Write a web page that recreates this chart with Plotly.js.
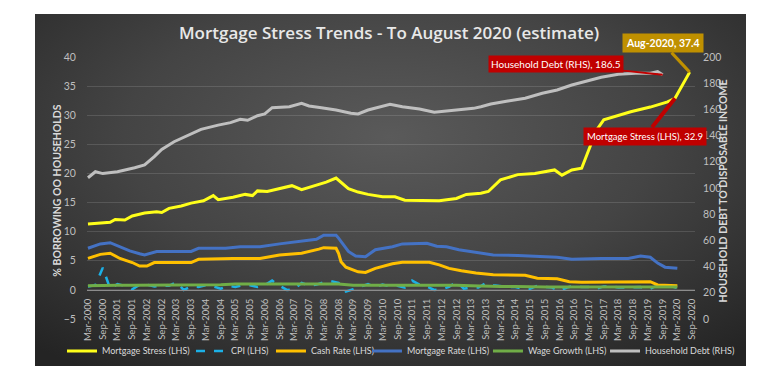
<!DOCTYPE html>
<html><head><meta charset="utf-8">
<script src="https://cdn.plot.ly/plotly-3.0.1.min.js"></script>
<style>
html,body{margin:0;padding:0;background:#fff;width:778px;height:383px;overflow:hidden}
#bg{position:absolute;left:35px;top:14px;width:711px;height:352px;background:radial-gradient(ellipse 75% 80% at 50% 35%, #5a5a5a 0%, #444 50%, #242424 100%);}
#chart{position:absolute;left:0;top:0;width:778px;height:383px}
</style></head><body><div id="bg"></div><div id="chart"></div>
<script>
// Mortgage Stress (LHS)
const stressDates = ["2000-03-01","2000-08-01","2000-12-01","2001-02-01","2001-06-01","2001-09-01","2002-02-01","2002-07-01","2002-09-01","2002-12-01","2003-05-01","2003-09-01","2004-02-01","2004-06-01","2004-08-01","2005-02-01","2005-07-01","2005-10-01","2005-12-01","2006-04-01","2006-09-01","2007-02-01","2007-06-01","2007-12-01","2008-04-01","2008-08-01","2009-01-01","2009-05-01","2009-09-01","2010-03-01","2010-08-01","2010-12-01","2011-07-01","2012-02-01","2012-09-01","2013-01-01","2013-07-01","2013-10-01","2014-03-01","2014-07-01","2014-10-01","2015-05-01","2016-01-01","2016-04-01","2016-08-01","2016-12-01","2017-03-01","2017-06-01","2017-09-01","2018-01-01","2018-08-01","2019-04-01","2019-11-01","2020-02-01","2020-04-01","2020-07-01","2020-08-01"];
const stressVals = [11.3,11.5,11.6,12.1,12.0,12.7,13.2,13.4,13.3,14.0,14.4,14.9,15.3,16.2,15.5,15.9,16.4,16.2,17.0,16.9,17.4,17.9,17.2,18.0,18.5,19.2,17.4,16.8,16.4,16.0,16.0,15.4,15.3,15.3,15.7,16.4,16.6,16.9,18.9,19.4,19.8,20.0,20.6,19.7,20.6,20.9,24.0,27.4,29.2,29.7,30.6,31.4,32.3,32.9,34.3,36.6,37.4];

// CPI (LHS), quarterly
const cpiDates = ["2000-03-01","2000-06-01","2000-09-01","2000-12-01","2001-03-01","2001-06-01","2001-09-01","2001-12-01","2002-03-01","2002-06-01","2002-09-01","2002-12-01","2003-03-01","2003-06-01","2003-09-01","2003-12-01","2004-03-01","2004-06-01","2004-09-01","2004-12-01","2005-03-01","2005-06-01","2005-09-01","2005-12-01","2006-03-01","2006-06-01","2006-09-01","2006-12-01","2007-03-01","2007-06-01","2007-09-01","2007-12-01","2008-03-01","2008-06-01","2008-09-01","2008-12-01","2009-03-01","2009-06-01","2009-09-01","2009-12-01","2010-03-01","2010-06-01","2010-09-01","2010-12-01","2011-03-01","2011-06-01","2011-09-01","2011-12-01","2012-03-01","2012-06-01","2012-09-01","2012-12-01","2013-03-01","2013-06-01","2013-09-01","2013-12-01","2014-03-01","2014-06-01","2014-09-01","2014-12-01","2015-03-01","2015-06-01","2015-09-01","2015-12-01","2016-03-01","2016-06-01","2016-09-01","2016-12-01","2017-03-01","2017-06-01","2017-09-01","2017-12-01","2018-03-01","2018-06-01","2018-09-01","2018-12-01","2019-03-01","2019-06-01","2019-09-01","2019-12-01","2020-03-01"];
const cpiVals = [0.6,0.8,3.8,0.2,1.0,0.7,0.1,0.9,0.9,0.6,0.7,0.7,1.3,0.0,0.6,0.5,0.8,0.6,0.2,0.7,0.5,0.8,0.8,0.5,0.8,1.6,0.7,0.0,0.1,1.2,0.7,0.9,1.3,1.5,1.2,-0.3,0.1,0.5,1.0,0.5,0.9,0.6,0.7,0.4,1.6,0.9,0.6,0.0,0.1,0.5,1.4,0.2,0.4,0.4,1.2,0.8,0.6,0.5,0.5,0.2,0.2,0.7,0.5,0.4,-0.2,0.4,0.7,0.5,0.5,0.2,0.6,0.6,0.4,0.4,0.4,0.5,0.0,0.6,0.5,0.7,0.3];

// Cash Rate (LHS)
const cashDates = ["2000-03-01","2000-08-01","2000-12-01","2001-04-01","2001-09-01","2001-12-01","2002-03-01","2002-06-01","2003-09-01","2003-12-01","2005-02-01","2006-01-01","2006-09-01","2007-06-01","2008-01-01","2008-03-01","2008-08-01","2008-09-01","2008-10-01","2008-12-01","2009-05-01","2009-08-01","2009-12-01","2010-07-01","2010-11-01","2011-10-01","2012-02-01","2012-06-01","2012-11-01","2013-05-01","2013-12-01","2015-01-01","2015-06-01","2016-02-01","2016-07-01","2016-12-01","2019-04-01","2019-07-01","2020-03-01"];
const cashVals = [5.4,6.1,6.3,5.4,4.7,4.1,4.1,4.7,4.7,5.25,5.4,5.4,6.0,6.3,7.0,7.25,7.15,6.3,4.85,3.9,3.1,3.0,3.7,4.5,4.75,4.75,4.3,3.7,3.3,2.9,2.6,2.5,2.0,1.9,1.4,1.3,1.4,0.85,0.7];

// Mortgage Rate (LHS)
const rateDates = ["2000-03-01","2000-08-01","2000-12-01","2001-04-01","2001-08-01","2001-12-01","2002-02-01","2002-07-01","2003-09-01","2003-12-01","2004-11-01","2005-05-01","2006-01-01","2006-09-01","2007-06-01","2007-12-01","2008-03-01","2008-08-01","2008-09-01","2009-01-01","2009-04-01","2009-08-01","2009-12-01","2010-07-01","2010-11-01","2011-09-01","2012-01-01","2012-05-01","2012-10-01","2013-05-01","2013-12-01","2014-10-01","2015-06-01","2016-02-01","2016-08-01","2017-08-01","2018-07-01","2018-12-01","2019-04-01","2019-07-01","2019-10-01","2020-03-01"];
const rateVals = [7.15,7.9,8.1,7.4,6.7,6.2,6.0,6.6,6.6,7.15,7.15,7.4,7.4,7.9,8.4,8.7,9.4,9.4,8.9,6.6,5.8,5.7,6.9,7.4,7.9,8.0,7.5,7.4,6.9,6.4,6.0,5.9,5.7,5.6,5.25,5.4,5.4,5.8,5.6,4.6,3.9,3.7];

// Wage Growth (LHS)
const wageDates = ["2000-03-01","2000-09-01","2001-03-01","2001-09-01","2002-03-01","2002-09-01","2003-03-01","2003-09-01","2004-03-01","2004-09-01","2005-03-01","2005-09-01","2006-03-01","2006-09-01","2007-03-01","2007-09-01","2008-03-01","2008-09-01","2009-03-01","2009-09-01","2010-03-01","2010-09-01","2011-03-01","2011-09-01","2012-03-01","2012-09-01","2013-03-01","2013-09-01","2014-03-01","2014-09-01","2015-03-01","2015-09-01","2016-03-01","2016-09-01","2017-03-01","2017-09-01","2018-03-01","2018-09-01","2019-03-01","2019-09-01","2020-03-01"];
const wageVals = [0.7,0.8,0.8,0.8,0.8,0.8,0.9,0.9,0.9,0.9,1.0,1.0,1.0,1.0,1.0,1.0,1.1,1.0,0.8,0.8,0.9,0.9,0.9,0.9,0.8,0.8,0.7,0.6,0.6,0.6,0.5,0.5,0.5,0.5,0.5,0.5,0.5,0.6,0.5,0.5,0.5];

// Household Debt (RHS)
const debtDates = ["2000-03-01","2000-06-01","2000-09-01","2001-03-01","2001-10-01","2002-02-01","2002-06-01","2002-09-01","2003-02-01","2003-08-01","2004-01-01","2004-08-01","2005-01-01","2005-05-01","2005-08-01","2005-12-01","2006-03-01","2006-06-01","2006-11-01","2007-01-01","2007-06-01","2007-09-01","2008-02-01","2008-08-01","2009-02-01","2009-05-01","2009-09-01","2010-01-01","2010-06-01","2010-11-01","2011-06-01","2011-12-01","2012-06-01","2012-12-01","2013-04-01","2013-07-01","2013-11-01","2014-06-01","2015-01-01","2015-08-01","2016-02-01","2016-08-01","2017-01-01","2017-08-01","2018-03-01","2018-10-01","2019-04-01","2019-07-01","2019-09-01"];
const debtVals = [107.8,112.4,111.0,112.4,115.5,117.6,124.0,129.5,135.3,140.5,144.8,148.0,149.9,152.4,151.7,155.2,156.5,161.3,162.0,162.0,164.6,162.6,161.3,159.5,157.0,156.5,159.5,161.6,163.9,162.0,160.3,157.8,159.0,160.0,160.8,162.0,164.1,166.4,168.5,172.3,174.8,178.6,181.1,184.5,186.8,187.6,187.6,188.8,186.5];

const names = ["Mortgage Stress (LHS)","CPI (LHS)","Cash Rate (LHS)","Mortgage Rate (LHS)","Wage Growth (LHS)","Household Debt (RHS)"];
const colors = ["#FFFF1A","#1CB0E6","#FFC000","#4472C4","#70AD47","#BFBFBF"];
const leftTitle = "% BORROWING OO HOUSEHOLDS";
const rightTitle = "HOUSEHOLD DEBT TO DISPOSABLE INCOME";

const legendKeys = ["legend","legend2","legend3","legend4","legend5","legend6"];
const legendXs = [-0.0411, 0.1711, 0.3026, 0.4605, 0.6595, 0.8520];

const traces = [
  {x: stressDates, y: stressVals, name: names[0], line:{color:colors[0], width:3}},
  {x: cpiDates, y: cpiVals, name: names[1], line:{color:colors[1], width:2.5, dash:"dash"}},
  {x: cashDates, y: cashVals, name: names[2], line:{color:colors[2], width:3}},
  {x: rateDates, y: rateVals, name: names[3], line:{color:colors[3], width:3}},
  {x: wageDates, y: wageVals, name: names[4], line:{color:colors[4], width:3}},
  {x: debtDates, y: debtVals, name: names[5], yaxis:"y2", line:{color:colors[5], width:3}}
].map((t, i) => Object.assign({type:"scatter", mode:"lines", legend: legendKeys[i]}, t));

const FONT = "Lato, Liberation Sans, sans-serif";
const tickFont = {family:FONT, size:10.5, color:"#BFBFBF"};
const xTickFont = {family:FONT, size:9.5, color:"#BFBFBF"};
const sLast = stressVals.length - 1;
const sMid = stressVals.indexOf(32.9);
const dLast = debtVals.length - 1;

const layout = {
  width:778, height:383,
  margin:{l:87, r:83, t:57, b:64, autoexpand:false},
  paper_bgcolor:"rgba(0,0,0,0)", plot_bgcolor:"rgba(0,0,0,0)",
  showlegend:true,
  title:{text:"Mortgage Stress Trends - To August 2020 (estimate)", x:0.5, xanchor:"center", y:0.914, yanchor:"middle",
         font:{family:"Open Sans, sans-serif", size:17, weight:600, color:"#E8E8E8"}},
  xaxis:{type:"date", range:["2000-02-18","2020-10-06"], tick0:"2000-03-01", dtick:"M6", tickformat:"%b-%Y",
         tickangle:-90, tickfont:xTickFont, showgrid:false, zeroline:false,
         anchor:"free", position:0.111, showline:true, linecolor:"#8C8C8C", linewidth:1,
         ticks:"outside", ticklen:4, tickcolor:"rgba(0,0,0,0)"},
  yaxis:{range:[-5,40], dtick:5, tickfont:tickFont, gridcolor:"rgba(255,255,255,0.13)", gridwidth:1, zeroline:false,
         ticks:"outside", ticklen:8, tickcolor:"rgba(0,0,0,0)"},
  yaxis2:{range:[0,200], dtick:20, overlaying:"y", side:"right", showgrid:false, zeroline:false, tickfont:tickFont,
          ticks:"outside", ticklen:5, tickcolor:"rgba(0,0,0,0)"},
  annotations:[
    {xref:"paper", yref:"paper", x:-0.0493, y:0.49, xanchor:"center", yanchor:"middle", text:"<b>"+leftTitle+"</b>", textangle:-90, showarrow:false,
     font:{family:FONT, size:10.5, color:"#D9D9D9"}},
    {xref:"paper", yref:"paper", x:1.046, y:0.49, xanchor:"center", yanchor:"middle", text:"<b>"+rightTitle+"</b>", textangle:-90, showarrow:false,
     font:{family:FONT, size:10.5, color:"#D9D9D9"}},
    {x: stressDates[sLast], y: stressVals[sLast], xref:"x", yref:"y",
     text: "Aug-2020, " + stressVals[sLast], showarrow:true, arrowhead:0, arrowwidth:3, arrowcolor:"#BF9000",
     ax:-27, ay:-29, bgcolor:"#BF9000", borderpad:3, font:{family:FONT, size:10.5, color:"#FFFFFF", weight:700}},
    {x: debtDates[dLast], y: debtVals[dLast], xref:"x", yref:"y2",
     text: "Household Debt (RHS), " + debtVals[dLast], showarrow:true, arrowhead:0, arrowwidth:2, arrowcolor:"#C00000",
     ax:-107, ay:-11, bgcolor:"#C00000", borderpad:2, font:{family:FONT, size:10, color:"#FFFFFF"}},
    {x: stressDates[sMid], y: stressVals[sMid], xref:"x", yref:"y",
     text: "Mortgage Stress (LHS), " + stressVals[sMid], showarrow:true, arrowhead:0, arrowwidth:4, arrowcolor:"#C00000",
     ax:-30, ay:38, bgcolor:"#C00000", borderpad:3, font:{family:FONT, size:9.5, color:"#FFFFFF"}}
  ]
};
legendKeys.forEach((k, i) => {
  layout[k] = {orientation:"h", x:legendXs[i], xanchor:"left", y:-0.122, yanchor:"middle", itemwidth:30,
               font:{family:FONT, size:9, color:"#D9D9D9"}, bgcolor:"rgba(0,0,0,0)"};
});

Plotly.newPlot("chart", traces, layout, {staticPlot:true, displayModeBar:false});
</script></body></html>
